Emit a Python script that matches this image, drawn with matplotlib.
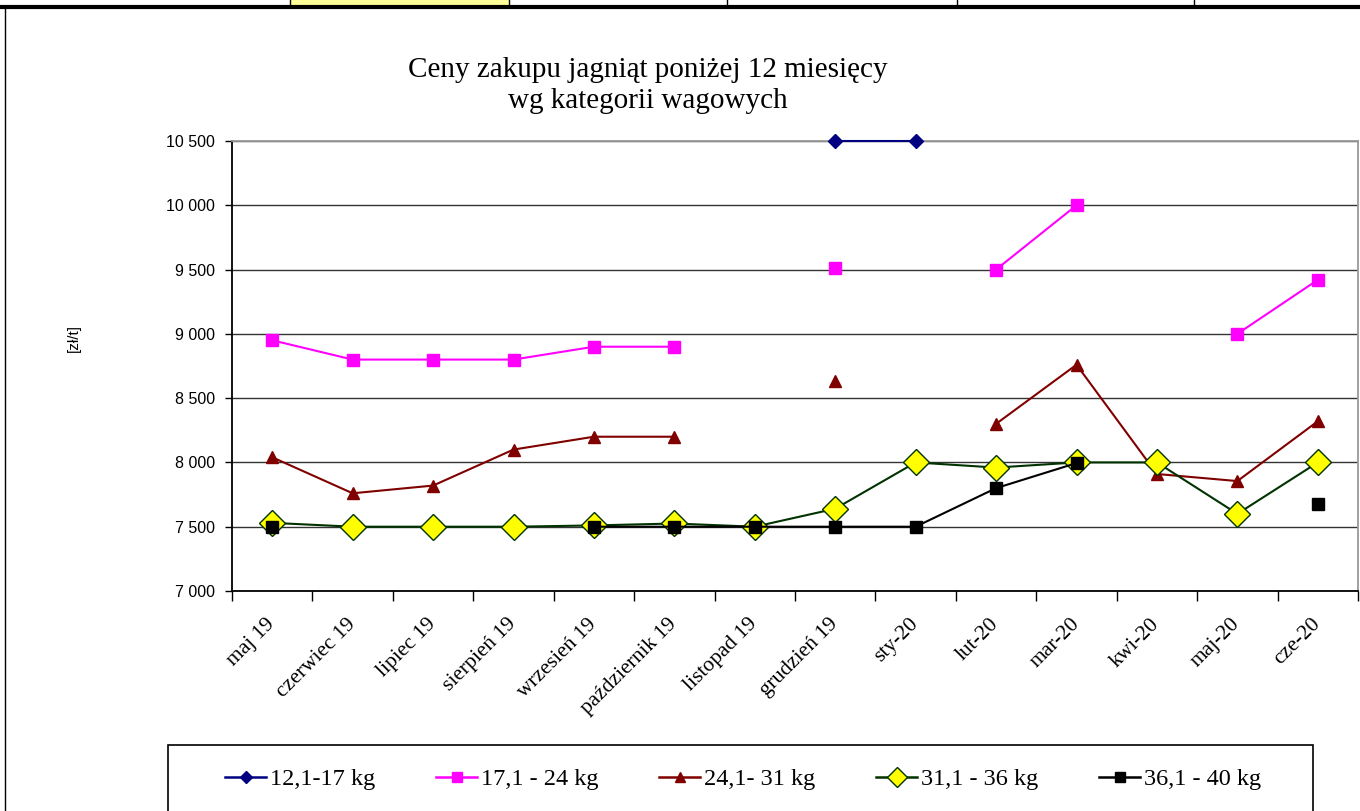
import numpy as np
import matplotlib.pyplot as plt
import matplotlib.ticker as mticker
from matplotlib.patches import Rectangle
from matplotlib.lines import Line2D

# ── Dane ─────────────────────────────────────────────────────────────────────
miesiace = ['maj 19', 'czerwiec 19', 'lipiec 19', 'sierpień 19', 'wrzesień 19',
            'październik 19', 'listopad 19', 'grudzień 19', 'sty-20', 'lut-20',
            'mar-20', 'kwi-20', 'maj-20', 'cze-20']
nan = np.nan
kat_12_17 = [nan, nan, nan, nan, nan, nan, nan, 10500, 10500, nan, nan, nan, nan, nan]
kat_17_24 = [8950, 8800, 8800, 8800, 8900, 8900, nan, 9515, nan, 9500, 10000, nan, 9000, 9420]
kat_24_31 = [8040, 7760, 7820, 8100, 8200, 8200, nan, 8630, nan, 8300, 8760, 7910, 7855, 8320]
kat_31_36 = [7530, 7500, 7500, 7500, 7510, 7525, 7500, 7640, 8000, 7960, 8000, 8000, 7600, 8000]
kat_36_40 = [7500, nan, nan, nan, 7500, 7500, 7500, 7500, 7500, 7800, 7995, nan, nan, 7675]
etykiety = ['12,1-17 kg', '17,1 - 24 kg', '24,1- 31 kg', '31,1 - 36 kg', '36,1 - 40 kg']

SERIF = ['Liberation Serif', 'DejaVu Serif']
SANS = ['Liberation Sans', 'DejaVu Sans']

fig = plt.figure(figsize=(13.6, 8.11), dpi=100)
ax = fig.add_axes([232/1360, 1 - 591/811, (1358-232)/1360, (591-141)/811])

x = np.arange(len(miesiace))
ax.plot(x, kat_12_17, color='#000080', marker='D', ms=7.5, lw=1.5, zorder=3, clip_on=False)
ax.plot(x, kat_17_24, color='#FF00FF', marker='s', ms=8.5, lw=1.5, zorder=3, clip_on=False)
ax.plot(x, kat_24_31, color='#800000', marker='^', ms=9, lw=1.5, zorder=3, clip_on=False)
ax.plot(x, kat_31_36, color='#003300', marker='D', ms=13, mfc='#FFFF00', mec='#003300',
        mew=1, lw=1.5, zorder=3, clip_on=False)
ax.plot(x, kat_36_40, color='black', marker='s', ms=8.5, lw=1.5, zorder=4, clip_on=False)

ax.set_xlim(-0.5, len(miesiace) - 0.5)
ax.set_ylim(7000, 10500)
ax.yaxis.set_major_locator(mticker.MultipleLocator(500))
ax.yaxis.set_major_formatter(mticker.FuncFormatter(lambda v, p: f'{v:,.0f}'.replace(',', ' ')))
ax.grid(axis='y', color='#333333', lw=1)
ax.set_axisbelow(True)

ax.set_xticks(x)
ax.set_xticks(np.arange(-0.5, len(miesiace)), minor=True)
ax.tick_params(axis='x', which='major', length=0, pad=22)
ax.tick_params(axis='x', which='minor', length=7, direction='out', width=1)
ax.tick_params(axis='y', length=5, width=1, pad=7)
ax.set_xticklabels(miesiace, rotation=45, ha='right', va='center', rotation_mode='anchor',
                   family=SERIF, fontsize=15.5)
for lab in ax.get_yticklabels():
    lab.set_family(SANS)
    lab.set_fontsize(11.5)

for s in ['left', 'bottom']:
    ax.spines[s].set_color('black')
    ax.spines[s].set_linewidth(1.3)
for s in ['top', 'right']:
    ax.spines[s].set_color('#999999')
    ax.spines[s].set_linewidth(1.3)

fig.text(74/1360, 1 - 338/811, '[zł/t]', rotation=90, ha='center', va='center',
         family=SANS, fontsize=11)
fig.text(648/1360, 1 - 70/811, 'Ceny zakupu jagniąt poniżej 12 miesięcy',
         ha='center', va='center', family=SERIF, fontsize=21)
fig.text(648/1360, 1 - 101/811, 'wg kategorii wagowych',
         ha='center', va='center', family=SERIF, fontsize=21)

# ramka legendy i legenda
fig.patches.append(Rectangle((168/1360, -0.05), (1313-168)/1360, 0.05 + (811-745)/811,
                             transform=fig.transFigure, fill=False, ec='black', lw=1.2))
uchwyty = [
    Line2D([], [], color='#000080', marker='D', ms=6, lw=1.8),
    Line2D([], [], color='#FF00FF', marker='s', ms=7, lw=1.8),
    Line2D([], [], color='#800000', marker='^', ms=7, lw=1.8),
    Line2D([], [], color='#003300', marker='D', ms=10, mfc='#FFFF00', mec='#003300', lw=1.8),
    Line2D([], [], color='black', marker='s', ms=7, lw=1.8),
]
fig.legend(uchwyty, etykiety, loc='center', bbox_to_anchor=(743/1360, 1 - 779/811), ncol=5,
           frameon=False, prop={'family': SERIF, 'size': 17.5}, handlelength=1.7,
           handletextpad=0.15, columnspacing=2.5)

# fragment tabeli u góry strony
fig.patches.append(Rectangle((290/1360, 1 - 6/811), (509-290)/1360, 6/811,
                             transform=fig.transFigure, fc='#FFFF99', ec='none'))
fig.add_artist(Line2D([0, 1], [1 - 7/811, 1 - 7/811], color='black', lw=3))
for xv in [290, 509, 727, 957, 1194]:
    fig.add_artist(Line2D([xv/1360, xv/1360], [1 - 6/811, 1], color='black', lw=1))
fig.add_artist(Line2D([5/1360, 5/1360], [0, 1 - 7/811], color='black', lw=1))

plt.savefig('out.png', dpi=100)
